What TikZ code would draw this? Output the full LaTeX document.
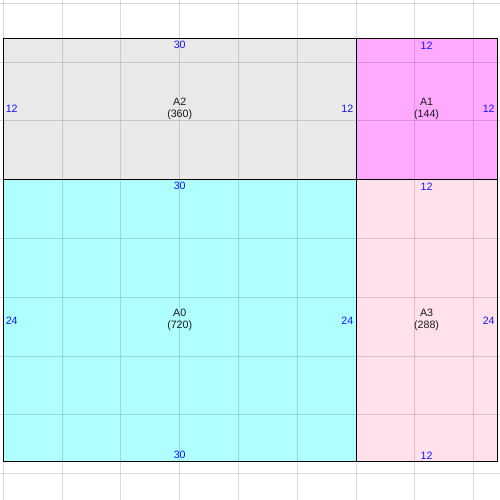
\documentclass[tikz,border=0pt]{standalone}
\usepackage{fontspec}
\setmainfont{Liberation Sans}
\definecolor{cA2}{RGB}{233,233,233}
\definecolor{cA1}{RGB}{255,170,255}
\definecolor{cA0}{RGB}{175,255,255}
\definecolor{cA3}{RGB}{255,225,236}
\definecolor{dimblue}{RGB}{20,20,255}
\begin{document}
\begin{tikzpicture}[x=0.75pt,y=-0.75pt,
  cell/.style={draw=black,line width=0.8pt},
  gridline/.style={draw=black,draw opacity=0.14,line width=0.75pt},
  dimlbl/.style={text=dimblue,font=\fontsize{8}{9}\selectfont,inner sep=0pt},
  arealbl/.style={text=black!90,font=\fontsize{8}{9}\selectfont,inner sep=0pt,align=center}]
\useasboundingbox (0,0) rectangle (500,500);
\fill[white] (0,0) rectangle (500,500);
% cells
\fill[cA2] (3.3,38.3) rectangle (356.1,179.4);
\fill[cA1] (356.1,38.3) rectangle (497.2,179.4);
\fill[cA0] (3.3,179.4) rectangle (356.1,461.7);
\fill[cA3] (356.1,179.4) rectangle (497.2,461.7);
% grid
\foreach \k in {0,...,8} {
  \draw[gridline] ({3.3+58.8*\k},0) -- ({3.3+58.8*\k},500);
  \draw[gridline] (0,{3.3+58.8*\k}) -- (500,{3.3+58.8*\k});
}
% borders
\draw[cell] (3.3,38.3) rectangle (356.1,179.4);
\draw[cell] (356.1,38.3) rectangle (497.2,179.4);
\draw[cell] (3.3,179.4) rectangle (356.1,461.7);
\draw[cell] (356.1,179.4) rectangle (497.2,461.7);
% area labels
\node[arealbl] (a2) at (179.7,108.6) {A2\\(360)};
\node[arealbl] (a1) at (426.6,108.6) {A1\\(144)};
\node[arealbl] (a0) at (179.7,320.2) {A0\\(720)};
\node[arealbl] (a3) at (426.6,320.2) {A3\\(288)};
% dimension labels
\node[dimlbl] (a2t) at (179.7,45.3) {30};
\node[dimlbl,anchor=west] (a2l) at (5.5,109) {12};
\node[dimlbl,anchor=east] (a2r) at (353.6,109) {12};
\node[dimlbl] (a1t) at (426.6,45.3) {12};
\node[dimlbl,anchor=east] (a1r) at (494.9,109) {12};
\node[dimlbl] (a0t) at (179.7,186.3) {30};
\node[dimlbl,anchor=west] (a0l) at (5.5,321) {24};
\node[dimlbl,anchor=east] (a0r) at (353.6,321) {24};
\node[dimlbl] (a0b) at (179.7,455.3) {30};
\node[dimlbl] (a3t) at (426.6,186.3) {12};
\node[dimlbl,anchor=east] (a3r) at (494.9,321) {24};
\node[dimlbl] (a3b) at (426.6,455.3) {12};
\end{tikzpicture}
\end{document}
